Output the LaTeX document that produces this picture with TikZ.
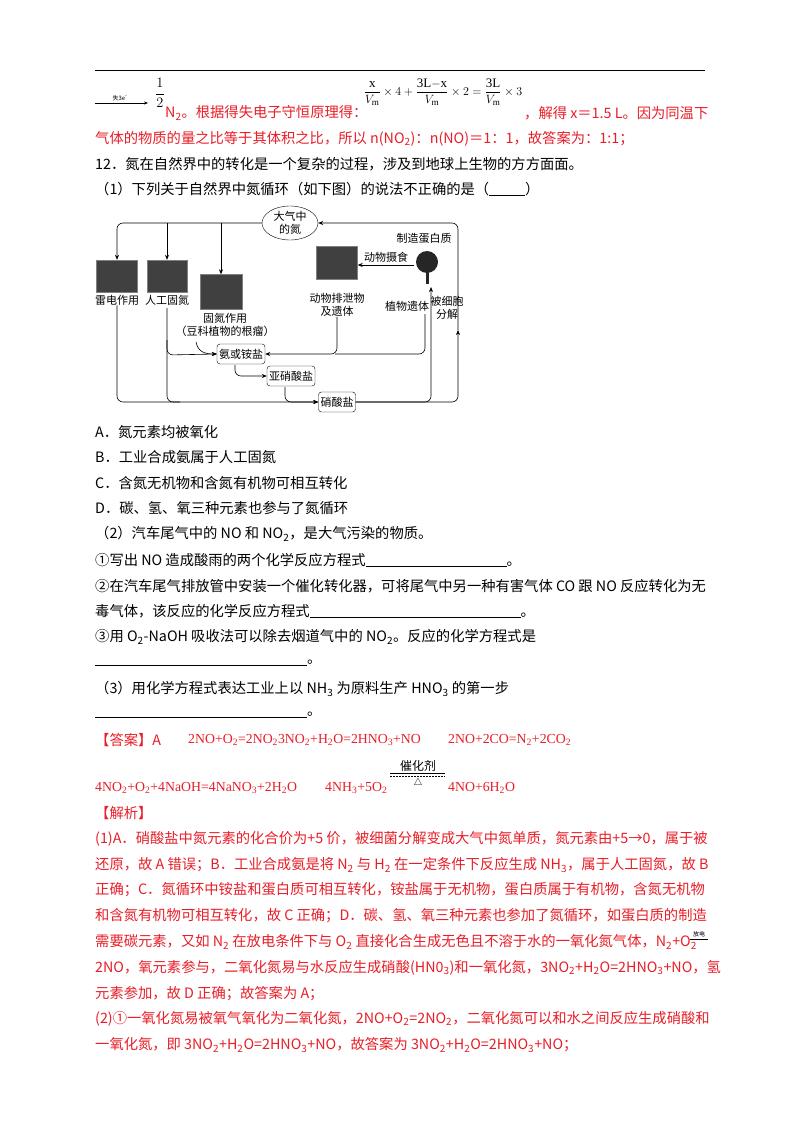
\documentclass[tikz,border=0pt]{standalone}
\usepackage{fontspec}
\setmainfont{Liberation Serif}
\newfontfamily\cjk{Noto Sans CJK SC}
\usetikzlibrary{arrows.meta,shapes.geometric}
\definecolor{ansred}{RGB}{232,30,40}
\newcommand{\subs}[1]{\textsubscript{#1}}
\tikzset{
 t/.style={anchor=west,inner sep=0pt,font=\cjk\fontsize{14.3}{17}\selectfont},
 r/.style={t,text=ansred},
 fr/.style={anchor=west,inner sep=0pt,text=ansred,font=\rmfamily\fontsize{13.8}{15}\selectfont},
 lbl/.style={inner sep=0pt,font=\cjk\fontsize{11}{13}\selectfont,align=center},
 box/.style={draw,rounded corners=3pt,inner sep=2pt,minimum height=20pt,font=\cjk\fontsize{11}{13}\selectfont},
 photo/.style={draw=black!50,fill=black!75,inner sep=0pt},
 ln/.style={draw,line width=0.6pt,rounded corners=6pt},
 ar/.style={ln,-{Stealth[length=5pt,width=4pt]}}
}
\begin{document}
\begin{tikzpicture}[x=1pt,y=-1pt]
\useasboundingbox (0,0) rectangle (800,1132);
\fill[white] (0,0) rectangle (800,1132);
% header rule
\draw[line width=1pt] (95,71) -- (705,71);
% top fragment
\coordinate (a0) at (95,103); \coordinate (a1) at (148,103);
\draw[-{Stealth[length=4pt]},line width=0.5pt] (a0) -- (a1);
\node[inner sep=0pt,font=\cjk\fontsize{6}{7}\selectfont] (lose) at (120,98) {失3e\textsuperscript{-}};
\node[inner sep=0pt,font=\fontsize{15}{15}\selectfont] (half) at (160,93) {$\displaystyle\frac{1}{2}$};
\node[r] (l1a) at (165,113) {N\subs{2}。根据得失电子守恒原理得：};
\node[inner sep=0pt,text=black,font=\fontsize{13}{14}\selectfont] (frac) at (443,92) {$\displaystyle\frac{\mathrm{x}}{V_{\mathrm m}}\times4+\frac{\mathrm{3L{-}x}}{V_{\mathrm m}}\times2=\frac{\mathrm{3L}}{V_{\mathrm m}}\times3$};
\node[r] (l1b) at (524,113) {，解得 x＝1.5 L。因为同温下};
\node[r] (l2) at (95,139) {气体的物质的量之比等于其体积之比，所以 n(NO\subs{2})：n(NO)＝1：1，故答案为：1:1；};
\node[t] (q12) at (95,164) {12．氮在自然界中的转化是一个复杂的过程，涉及到地球上生物的方方面面。};
\node[t] (q1) at (95,189) {（1）下列关于自然界中氮循环（如下图）的说法不正确的是（\underline{\hspace{36pt}}）};
% ===== diagram =====
\node[draw,ellipse,minimum width=56pt,minimum height=34pt,inner sep=0pt,lbl] (air) at (290,223) {大气中\\的氮};
\node[photo,minimum width=41pt,minimum height=32pt] (p1) at (117,276) {};
\node[photo,minimum width=40pt,minimum height=32pt] (p2) at (167,276) {};
\node[photo,minimum width=42pt,minimum height=35pt] (p3) at (221,292) {};
\node[photo,minimum width=41pt,minimum height=33pt] (p4) at (337,263) {};
\node[lbl] (t1) at (117,300) {雷电作用};
\node[lbl] (t2) at (167,300) {人工固氮};
\node[lbl] (t3) at (225,325) {固氮作用\\（豆科植物的根瘤）};
\node[lbl] (t4) at (337,305) {动物排泄物\\及遗体};
\node[lbl] (t5) at (424,238) {制造蛋白质};
\node[lbl] (t6) at (386,257) {动物摄食};
\node[lbl] (t7) at (407,306) {植物遗体};
\node[lbl] (t8) at (447,308) {被细胞\\分解};
% tree
\fill[black!85] (427,262) circle (11pt);
\fill[black!85] (426,270) rectangle (429,284);
\coordinate (tree) at (428,284);
\coordinate (treeL) at (414,265);
\node[box] (nh) at (241,354) {氨或铵盐};
\node[box] (no2) at (291,376) {亚硝酸盐};
\node[box] (no3) at (337,402) {硝酸盐};
% connectors from air
\draw[ar] (air.west) -- (117,223) -- (p1.north);
\draw[ar] (167,223) -- (p2.north);
\draw[ar] (221,223) -- (p3.north);
\draw[ar] (458,330) -- (458,223) -- (air.east);
\draw[ar] (treeL) -- (p4.east |- treeL);
% left side to nitrate
\draw[ar] (t1.south) -- (117,402) -- (no3.west);
\draw[ln] (167,308) -- (167,402) -- (180,402);
\draw[ar] (167,340) -- (167,355) -- (nh.west);
\draw[ar] (196,342) .. controls (198,352) and (205,354) .. (nh.west);
% animal & plant to ammonium
\draw[ar] (t4.south) -- (337,354) -- (nh.east);
\draw[ln] (425,314) -- (425,354) -- (335,354);
% chain
\draw[ar] (235,365) -- (235,376) -- (no2.west);
\draw[ar] (285,387) -- (285,402) -- (no3.west);
% nitrate to plants and decomposition
\draw[ar] (no3.east) -- (431,402) -- (431,287);
\draw[ar] (no3.east) -- (458,402) -- (458,330);
% ===== questions =====
\node[t] (qa) at (95,432) {A．氮元素均被氧化};
\node[t] (qb) at (95,457) {B．工业合成氨属于人工固氮};
\node[t] (qc) at (95,483) {C．含氮无机物和含氮有机物可相互转化};
\node[t] (qd) at (95,508) {D．碳、氢、氧三种元素也参与了氮循环};
\node[t] (q2) at (95,534) {（2）汽车尾气中的 NO 和 NO\subs{2}，是大气污染的物质。};
\node[t] (q21) at (95,560) {①写出 NO 造成酸雨的两个化学反应方程式\underline{\hspace{141pt}}。};
\node[t] (q22) at (95,586) {②在汽车尾气排放管中安装一个催化转化器，可将尾气中另一种有害气体 CO 跟 NO 反应转化为无};
\node[t] (q22b) at (95,611) {毒气体，该反应的化学反应方程式\underline{\hspace{211pt}}。};
\node[t] (q23) at (95,637) {③用 O\subs{2}-NaOH 吸收法可以除去烟道气中的 NO\subs{2}。反应的化学方程式是};
\node[t] (q23b) at (95,663) {\underline{\hspace{212pt}}。};
\node[t] (q3) at (95,689) {（3）用化学方程式表达工业上以 NH\subs{3} 为原料生产 HNO\subs{3} 的第一步};
\node[t] (q3b) at (95,715) {\underline{\hspace{212pt}}。};
% ===== answer =====
\node[r] (ans) at (95,740) {【答案】A};
\node[fr] (ans1) at (188,740) {2NO+O\subs{2}=2NO\subs{2}3NO\subs{2}+H\subs{2}O=2HNO\subs{3}+NO};
\node[fr] (ans2) at (448,740) {2NO+2CO=N\subs{2}+2CO\subs{2}};
\node[fr] (ans3) at (95,788) {4NO\subs{2}+O\subs{2}+4NaOH=4NaNO\subs{3}+2H\subs{2}O};
\node[fr] (ans4) at (325,788) {4NH\subs{3}+5O\subs{2}};
\node[inner sep=0pt,font=\cjk\fontsize{12}{13}\selectfont] (cat) at (418,766) {催化剂};
\draw[line width=0.6pt] (390,773) -- (445,773);
\draw[line width=0.6pt,dash pattern=on 2pt off 1pt] (390,776) -- (445,776);
\node[inner sep=0pt,font=\fontsize{10}{10}\selectfont] (tri) at (418,783) {$\triangle$};
\node[fr] (ans5) at (448,788) {4NO+6H\subs{2}O};
\node[r] (jx) at (95,813) {【解析】};
\node[r] (e1) at (95,839) {(1)A．硝酸盐中氮元素的化合价为+5 价，被细菌分解变成大气中氮单质，氮元素由+5→0，属于被};
\node[r] (e2) at (95,865) {还原，故 A 错误；B．工业合成氨是将 N\subs{2} 与 H\subs{2} 在一定条件下反应生成 NH\subs{3}，属于人工固氮，故 B};
\node[r] (e3) at (95,890) {正确；C．氮循环中铵盐和蛋白质可相互转化，铵盐属于无机物，蛋白质属于有机物，含氮无机物};
\node[r] (e4) at (95,916) {和含氮有机物可相互转化，故 C 正确；D．碳、氢、氧三种元素也参加了氮循环，如蛋白质的制造};
\node[r] (e5) at (95,942) {需要碳元素，又如 N\subs{2} 在放电条件下与 O\subs{2} 直接化合生成无色且不溶于水的一氧化氮气体，N\subs{2}+O\subs{2}};
\node[inner sep=0pt,font=\cjk\fontsize{6}{7}\selectfont] (fd) at (699,934) {放电};
\draw[line width=0.5pt] (690,939) -- (708,939);
\node[r] (e6) at (95,968) {2NO，氧元素参与，二氧化氮易与水反应生成硝酸(HN0\subs{3})和一氧化氮，3NO\subs{2}+H\subs{2}O=2HNO\subs{3}+NO，氢};
\node[r] (e7) at (95,994) {元素参加，故 D 正确；故答案为 A；};
\node[r] (e8) at (95,1019) {(2)①一氧化氮易被氧气氧化为二氧化氮，2NO+O\subs{2}=2NO\subs{2}，二氧化氮可以和水之间反应生成硝酸和};
\node[r] (e9) at (95,1045) {一氧化氮，即 3NO\subs{2}+H\subs{2}O=2HNO\subs{3}+NO，故答案为 3NO\subs{2}+H\subs{2}O=2HNO\subs{3}+NO；};
\end{tikzpicture}
\end{document}
